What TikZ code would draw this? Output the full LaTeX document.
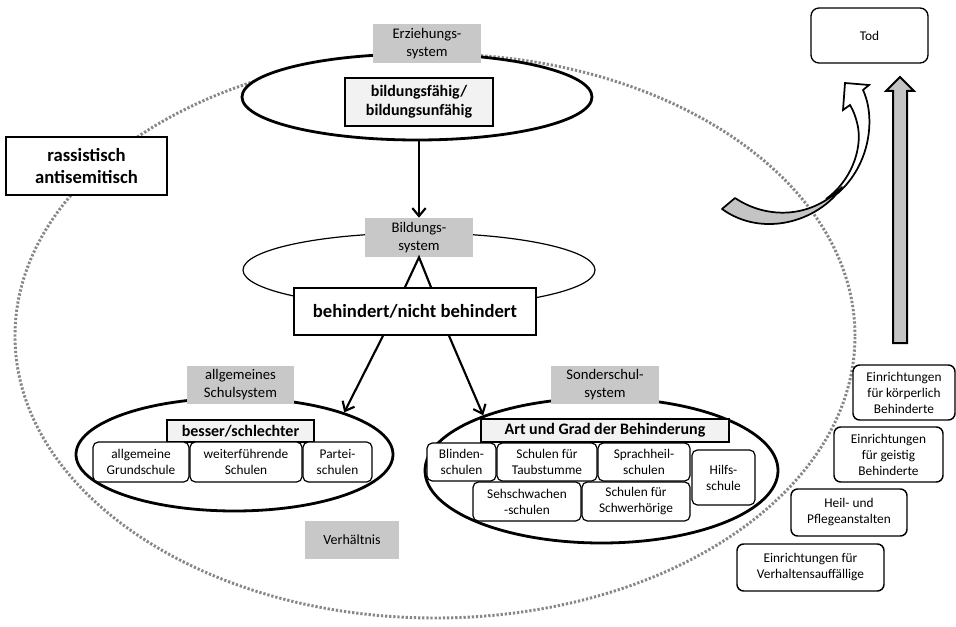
\documentclass[tikz,border=0pt]{standalone}
\usepackage{fontspec}
\setmainfont{Carlito}
\usetikzlibrary{shapes.geometric,arrows.meta,calc}
\definecolor{lblgray}{RGB}{200,200,200}
\definecolor{lightfill}{RGB}{242,242,242}
\definecolor{dotgray}{RGB}{135,135,135}
\definecolor{arrgray}{RGB}{196,196,196}
\begin{document}
\begin{tikzpicture}[x=0.75pt,y=-0.75pt,
  lbl/.style={fill=lblgray, inner sep=0pt, align=center, font=\fontsize{11}{13.5}\selectfont},
  dotell/.style={ellipse, draw=dotgray, line width=2.2pt, dash pattern=on 1.7pt off 1.4pt, inner sep=0pt},
  thickell/.style={ellipse, draw, line width=2.1pt, inner sep=0pt},
  thinell/.style={ellipse, draw, line width=0.9pt, inner sep=0pt},
  titlebox/.style={draw, line width=1.2pt, inner sep=0pt, align=center, font=\bfseries\fontsize{12}{14.5}\selectfont},
  bigbox/.style={titlebox, fill=white, font=\bfseries\fontsize{14}{17}\selectfont},
  schoolbox/.style={draw, rounded corners=4pt, line width=0.9pt, fill=white, inner sep=0pt, align=center, font=\fontsize{10}{12}\selectfont},
  instbox/.style={schoolbox, line width=1.1pt, rounded corners=5pt},
  arr/.style={line width=1.6pt, -{Straight Barb[length=6pt,width=10pt,line width=1.6pt]}},
  conn/.style={line width=1.6pt}
]
\useasboundingbox (0,0) rectangle (956,627);

% outer dotted ellipse
\node[dotell, minimum width=630pt, minimum height=423pt] (outer) at (435,336) {};

% Erziehungssystem
\node[thickell, fill=white, minimum width=262.5pt, minimum height=64.5pt] (ez) at (417,97) {};
\node[lbl, minimum width=81pt, minimum height=29.25pt] (erz) at (427,43.5) {Erziehungs-\\system};
\node[titlebox, fill=lightfill, minimum width=111pt, minimum height=36pt] (bf) at (419,102) {bildungsfähig/\\bildungsunfähig};

% Bildungssystem
\node[thinell, minimum width=264pt, minimum height=55.5pt] (bsell) at (419,270) {};
\node[lbl, minimum width=81pt, minimum height=29.25pt] (bild) at (419,237.5) {Bildungs-\\system};
\node[bigbox, minimum width=181.5pt, minimum height=35.25pt] (beh) at (415,311.5) {behindert/nicht behindert};

\draw[arr] (bild.north |- ez.south) -- (bild.north);
\draw[conn, line join=miter] ([xshift=-10.5pt]bild.south |- beh.north) -- (bild.south) -- ([xshift=9pt]bild.south |- beh.north);

% allgemeines Schulsystem
\node[thickell, minimum width=237.75pt, minimum height=84.75pt] (le) at (234.5,454.5) {};
\node[lbl, minimum width=80.25pt, minimum height=28.5pt] (allg) at (240.5,385) {allgemeines\\Schulsystem};
\node[titlebox, fill=lightfill, minimum width=110.25pt, minimum height=16.5pt] (bs) at (240.5,431) {besser/schlechter};
\node[schoolbox, minimum width=72pt, minimum height=30pt] (grund) at (141,462) {allgemeine\\Grundschule};
\node[schoolbox, minimum width=84pt, minimum height=30pt] (weiter) at (246,462) {weiterführende\\Schulen};
\node[schoolbox, minimum width=51.75pt, minimum height=30pt] (partei) at (337.5,462) {Partei-\\schulen};

% Sonderschulsystem
\node[thickell, minimum width=264.75pt, minimum height=108.75pt] (re) at (601.5,470.5) {};
\node[lbl, minimum width=81pt, minimum height=28.5pt] (sonder) at (605,385) {Sonderschul-\\system};
\node[titlebox, fill=lightfill, minimum width=186pt, minimum height=17.25pt] (art) at (605,430.5) {Art und Grad der Behinderung};
\node[schoolbox, minimum width=51.75pt, minimum height=28.5pt] (blind) at (461.5,462) {Blinden-\\schulen};
\node[schoolbox, minimum width=75pt, minimum height=28.5pt] (taub) at (547,462) {Schulen für\\Taubstumme};
\node[schoolbox, minimum width=69pt, minimum height=28.5pt] (sprach) at (644,462) {Sprachheil-\\schulen};
\node[schoolbox, minimum width=81pt, minimum height=29.25pt] (sehsch) at (527,501.5) {Sehschwachen\\-schulen};
\node[schoolbox, minimum width=81pt, minimum height=29.25pt] (schwer) at (636,501.5) {Schulen für\\Schwerhörige};
\node[schoolbox, minimum width=47.25pt, minimum height=41.25pt] (hilfs) at (723.5,477.5) {Hilfs-\\schule};

\draw[arr] ([xshift=-24pt]beh.south) -- (le.21);
\draw[arr] ([xshift=25.5pt]beh.south) -- (re.155);

% Verhältnis
\node[lbl, minimum width=70.5pt, minimum height=28.5pt, font=\fontsize{10.5}{13}\selectfont] (verh) at (352,540) {Verhältnis};

% rassistisch
\node[bigbox, minimum width=120.75pt, minimum height=43.5pt] (rass) at (86.5,166) {rassistisch\\antisemitisch};

% Tod
\node[draw, rounded corners=6pt, line width=1pt, inner sep=0pt, minimum width=87.75pt, minimum height=41.25pt, font=\fontsize{10}{12}\selectfont] (tod) at (869.5,35.5) {Tod};

% straight gray arrow
\draw[line width=1.5pt, fill=arrgray] (893,343) -- (893,91) -- (886,91) -- (900,77) -- (914,91) -- (907,91) -- (907,343) -- cycle;

% curved arrow
\draw[line width=1.3pt, fill=white, line join=miter] (826,199) .. controls (851,181) and (862,150) .. (858,127) .. controls (856,117) and (853,110) .. (850,105) -- (843,110) -- (845,83) -- (869,85) -- (863,90) .. controls (876,118) and (870,165) .. (838,193) -- cycle;
\draw[line width=1.3pt, fill=arrgray, line join=round] (722,209) -- (735,198) .. controls (768,220) and (812,218) .. (842,187) .. controls (818,222) and (762,238) .. (722,209) -- cycle;

% institutions
\node[instbox, minimum width=76.5pt, minimum height=41.25pt] (k1) at (904,392.5) {Einrichtungen\\für körperlich\\Behinderte};
\node[instbox, minimum width=81.75pt, minimum height=41.25pt] (k2) at (888.5,454.5) {Einrichtungen\\für geistig\\Behinderte};
\node[instbox, minimum width=87pt, minimum height=35.25pt] (k3) at (849,512.5) {Heil- und\\Pflegeanstalten};
\node[instbox, minimum width=110.25pt, minimum height=35.25pt] (k4) at (810.5,567.5) {Einrichtungen für\\Verhaltensauffällige};
\end{tikzpicture}
\end{document}
